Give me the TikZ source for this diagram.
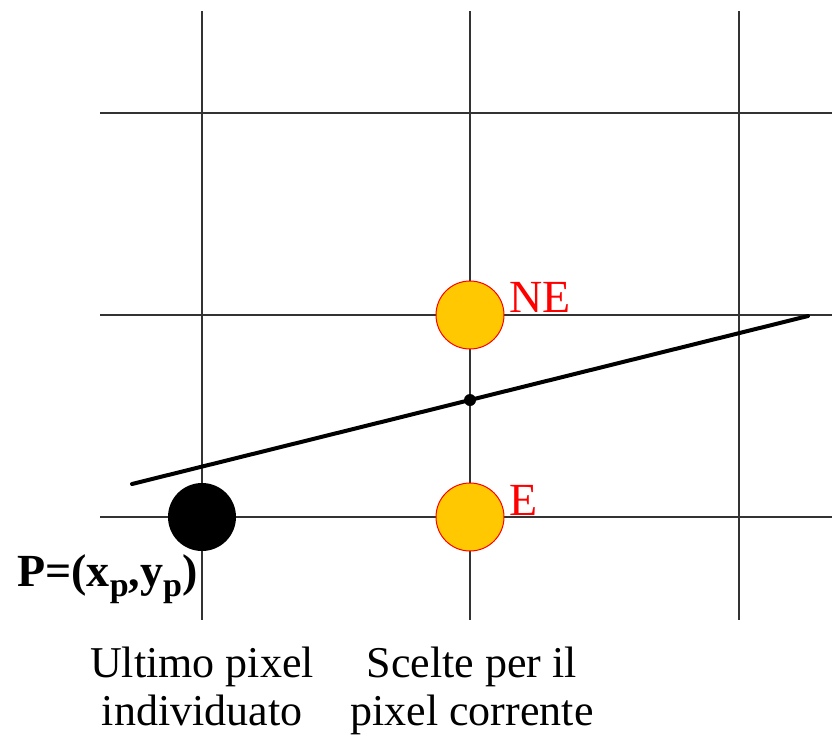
\documentclass[tikz,border=0pt]{standalone}
\usepackage{fontspec}
\setmainfont{Liberation Serif}
\definecolor{gridline}{HTML}{333333}
\definecolor{choicefill}{HTML}{FFC800}
\definecolor{choicered}{HTML}{FF0000}
\newcommand{\pixsub}[1]{\raisebox{-0.22em}{\fontsize{34}{34}\selectfont #1}}

\begin{document}
\begin{tikzpicture}[
  x=1pt,
  y=-1pt,
  line join=round,
  gridline/.style={draw=gridline,line width=1.3pt},
  idealline/.style={draw=black,line width=4pt,line cap=round},
  lastpixel/.style={circle,fill=black,inner sep=0pt,minimum size=68pt},
  choice/.style={circle,draw=choicered,line width=1pt,fill=choicefill,inner sep=0pt,minimum size=68pt},
  choicelabel/.style={text=choicered,font=\fontsize{46}{50}\selectfont,inner sep=0pt,anchor=base west},
  caption/.style={font=\fontsize{44}{48}\selectfont,align=center,inner sep=0pt,anchor=north}
]
  % Keep the original frame.
  \useasboundingbox (0,0) rectangle (832,739);

  % Pixel grid.
  \foreach \gx in {202,470,739}
    \draw[gridline] (\gx,11) -- (\gx,620);
  \foreach \gy in {113,315,517}
    \draw[gridline] (100,\gy) -- (832,\gy);

  % Ideal line and its midpoint crossing.
  \coordinate (lineStart) at (132,484);
  \coordinate (lineEnd) at (808,316);
  \draw[idealline] (lineStart) -- (lineEnd);
  \fill[black] (470,400) circle[radius=6pt];

  % Last chosen pixel and the two candidates.
  \node[lastpixel] (pixelP) at (202,517) {};
  \node[choice] (pixelNE) at (470,315) {};
  \node[choice] (pixelE) at (470,517) {};

  \node[choicelabel] (labelNE) at (509,312) {NE};
  \node[choicelabel] (labelE) at (509,515) {E};
  \node[inner sep=0pt,anchor=base west,font=\fontsize{46}{50}\selectfont\bfseries] (labelP) at (17,586)
    {P=(x\pixsub{p},y\pixsub{p})};

  % Captions below the grid.
  \node[caption] (captionLast) at (202,647) {Ultimo pixel\\individuato};
  \node[caption] (captionChoice) at (472,647) {Scelte per il\\pixel corrente};
\end{tikzpicture}
\end{document}
